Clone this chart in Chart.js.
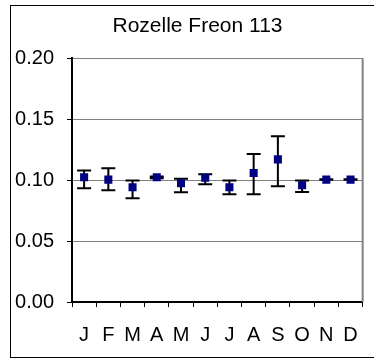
<!DOCTYPE html>
<html>
<head>
<meta charset="utf-8">
<script src="https://cdn.jsdelivr.net/npm/chart.js@4/dist/chart.umd.min.js"></script>
<style>
  body { margin: 0; background: #fff; }
  #frame { position: absolute; left: 10px; top: 5px; width: 400px; height: 351px; border: 1px solid #000; background: #fff; }
  #c { position: absolute; left: 0; top: 0; }
</style>
</head>
<body>
<div id="frame"></div>
<canvas id="c" width="374" height="359"></canvas>
<script>
// monthly means and error bar ends (ppb)
const months = ['J', 'F', 'M', 'A', 'M', 'J', 'J', 'A', 'S', 'O', 'N', 'D'];
const means = [0.1023, 0.1004, 0.0941, 0.1023, 0.0974, 0.1020, 0.0941, 0.1059, 0.1170, 0.0957, 0.1004, 0.1004];
const highs = [0.1078, 0.1097, 0.0996, 0.1030, 0.1012, 0.1048, 0.0996, 0.1215, 0.1359, 0.0996, 0.1006, 0.1006];
const lows  = [0.0933, 0.0916, 0.0851, 0.1015, 0.0900, 0.0966, 0.0884, 0.0884, 0.0949, 0.0903, 0.1002, 0.1002];
const yTicks = [0, 0.05, 0.10, 0.15, 0.20];

const font = "'Liberation Sans', Arial, sans-serif";

// error bars + right edge of the plot area
const errorBars = {
    id: 'errorBars',
    afterLayout(chart) {
        // title is centred on the outer frame, not the canvas
        if (chart.titleBlock) chart.titleBlock.left = 24;
    },
    beforeDatasetsDraw(chart) {
        const ctx = chart.ctx;
        const x = chart.scales.x, y = chart.scales.y;
        const area = chart.chartArea;
        ctx.save();
        ctx.strokeStyle = '#808080';
        ctx.lineWidth = 2;
        ctx.beginPath();
        ctx.moveTo(area.right, area.top);
        ctx.lineTo(area.right, area.bottom);
        ctx.stroke();

        ctx.strokeStyle = '#000';
        ctx.lineWidth = 2;
        means.forEach((m, i) => {
            const px = x.getPixelForValue(i);
            const hi = y.getPixelForValue(highs[i]);
            const lo = y.getPixelForValue(lows[i]);
            ctx.beginPath();
            ctx.moveTo(px, hi); ctx.lineTo(px, lo);
            ctx.moveTo(px - 7, hi); ctx.lineTo(px + 7, hi);
            ctx.moveTo(px - 7, lo); ctx.lineTo(px + 7, lo);
            ctx.stroke();
        });
        ctx.restore();
    }
};

new Chart(document.getElementById('c'), {
    type: 'line',
    data: {
        labels: months,
        datasets: [{
            data: means,
            showLine: false,
            pointStyle: 'rect',
            pointRadius: 5.7,
            pointBackgroundColor: '#000080',
            pointBorderColor: '#000080',
            pointBorderWidth: 0
        }]
    },
    options: {
        responsive: false,
        animation: false,
        layout: { padding: { left: 0, right: 3, top: 0, bottom: 0 } },
        plugins: {
            legend: { display: false },
            tooltip: { enabled: false },
            title: {
                display: true,
                text: 'Rozelle Freon 113',
                color: '#000',
                font: { family: font, size: 21, weight: 'normal' },
                padding: { top: 14, bottom: 19 }
            }
        },
        scales: {
            x: {
                offset: true,
                grid: { offset: true, drawOnChartArea: false, tickLength: 5, tickColor: '#000', tickWidth: 1 },
                border: { color: '#000', width: 2 },
                ticks: { color: '#000', font: { family: font, size: 20 }, padding: 16, maxRotation: 0, autoSkip: false },
                afterFit(scale) { scale.height = 57; }
            },
            y: {
                min: 0,
                max: 0.2,
                afterBuildTicks(scale) { scale.ticks = yTicks.map(v => ({ value: v })); },
                grid: { color: '#808080', lineWidth: 1, tickLength: 5, tickColor: '#000' },
                border: { color: '#000', width: 2 },
                ticks: {
                    color: '#000',
                    font: { family: font, size: 20 },
                    padding: 13,
                    callback: v => v.toFixed(2)
                },
                afterFit(scale) { scale.width = 72; }
            }
        }
    },
    plugins: [errorBars]
});
</script>
</body>
</html>
